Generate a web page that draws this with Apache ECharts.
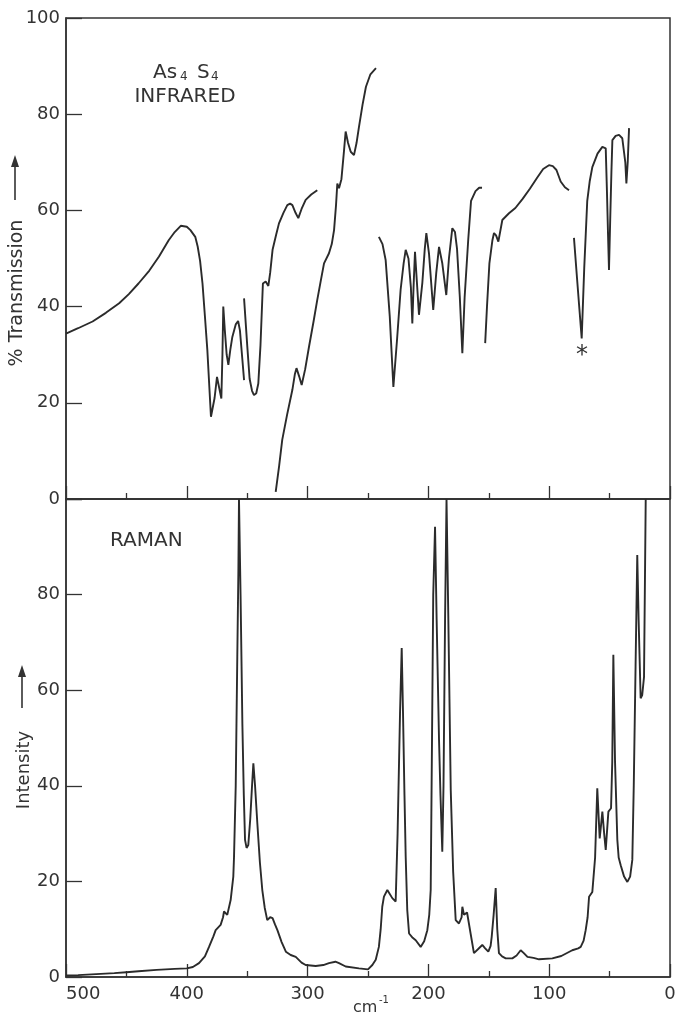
<!DOCTYPE html>
<html>
<head>
<meta charset="utf-8">
<script src="https://cdn.jsdelivr.net/npm/echarts@6/dist/echarts.min.js"></script>
<style>
html,body{margin:0;padding:0;background:#fff;}
#chart{width:680px;height:1018px;}
</style>
</head>
<body>
<div id="chart"></div>
<script>
// ---- Data: [wavenumber cm^-1, value] ----
// Infrared (% transmission), recorded in separate pen segments
const irSegA = [[500,34.4],[490,35.5],[478,36.9],[467,38.7],[456,40.7],[448,42.6],[440,44.8],[431,47.5],[423,50.4],[415,53.8],[410,55.5],[405,56.8],[400,56.6],[397,55.9],[393,54.5],[391,52.5],[389,49.5],[387,44.8],[385,38],[383,31],[381.5,24],[380,17.1],[377,21],[375,25.4],[373.5,23.5],[371.4,20.9],[370.5,30],[369.8,40],[368.5,35],[367,30],[365.6,27.9],[364,31],[362.3,33.7],[359.5,36.3],[357.5,37],[356,35],[354,29],[352.6,24.7]];
const irSegB = [[352.6,41.7],[350,32],[348,25],[346,22.5],[344.4,21.6],[342.5,22],[340.8,24],[339,32],[337,44.8],[334.7,45.2],[332.5,44.3],[331,47],[329,51.8],[326,55],[323.7,57.3],[320,59.5],[316.8,61.1],[314.5,61.4],[312.6,61.1],[310,59.5],[307.7,58.4],[305,60.3],[301.6,62.2],[297,63.3],[292,64.2]];
const irSegC = [[326.4,1.5],[323.5,7],[321,12.3],[317,17.5],[312.6,22.7],[310.5,26],[309.2,27.2],[307,25.5],[304.9,23.7],[302,27],[298.8,31.7],[295,37],[292,41.4],[289,45.5],[286.4,49],[282.3,51.1],[280,53],[278.1,55.9],[276.5,61],[275.4,65.6],[274,64.6],[272,66.5],[270,72],[268.5,76.4],[266.5,74],[264.3,72.2],[261.6,71.5],[259.5,74],[257.5,77.3],[254.5,82],[251.7,85.7],[248,88.3],[243.4,89.6]];
const irSegD = [[241,54.5],[238,53],[235.4,49.7],[232,38],[229,23.3],[226,33],[223,43.5],[220.5,49],[218.8,51.8],[216.5,50],[214.5,44],[213.3,36.5],[212.3,44],[211.1,51.4],[209.5,45],[207.8,38.3],[205,45],[203,52],[201.7,55.3],[199.5,51],[196,39.3],[193.5,47],[191.2,52.4],[188.5,49],[185.2,42.4],[183,50],[180.2,56.3],[178,55.5],[176.3,52],[174,42],[171.9,30.3],[170,42],[167,54],[164.7,62],[161,64],[158,64.7],[155.6,64.7]];
const irSegE = [[153,32.4],[151.5,40],[149.5,49],[147,53.8],[145.7,55.3],[144,54.8],[142.1,53.5],[138.8,58],[133.3,59.4],[128,60.5],[122,62.4],[116,64.5],[110,66.8],[105,68.6],[100.2,69.4],[97,69.2],[94,68.4],[90.5,66],[87,64.8],[83.6,64.2]];
const irSegF = [[79.5,54.3],[77,46],[75,39.5],[73.1,33.4],[71,48],[68.5,62],[66.5,66],[64.3,69],[60,71.8],[56,73.2],[53.2,72.9],[52.2,64],[51.3,55],[50.5,47.6],[49.5,58],[48.5,68],[47.7,74.6],[45,75.5],[42.2,75.7],[39.5,75],[38,74.6],[37,70],[36.1,65.6],[35,70],[33.9,77.1]];
// Raman (intensity)
const raman = [[500,0.3],[490,0.4],[475,0.6],[460,0.8],[450,1.0],[440,1.2],[425,1.5],[410,1.7],[400,1.8],[395,2.1],[389.9,2.9],[385,4.3],[381.6,6.3],[378,8.5],[376.1,9.8],[372,10.9],[370,12.5],[369.2,13.7],[366.5,13],[363.7,16.1],[361.5,21],[360.9,25.2],[359.5,40],[358.2,67],[357.3,85],[356.8,100],[355.5,80],[354,53],[352.8,38],[351.8,28.7],[350.5,27],[349.1,27.6],[347.5,33],[346,40],[344.9,44.7],[343.5,40],[341.6,32.1],[339.5,24],[337.5,18.2],[335.5,14.5],[333.4,11.9],[331,12.5],[329,12.3],[327,11],[325,9.8],[321.5,7.3],[318,5.3],[314,4.6],[309.8,4.2],[305,3],[301.6,2.5],[293.3,2.3],[287,2.5],[282.3,2.9],[277,3.2],[274,2.9],[268.5,2.2],[257.5,1.8],[250,1.6],[246.4,2.5],[243.6,3.6],[241,6.3],[239.5,10],[238.2,14.7],[236.8,16.8],[234,18.2],[232.6,18],[229.9,16.5],[227.1,15.8],[225.5,30],[223.5,55],[222.1,68.8],[221,55],[219.8,38],[218.8,25.2],[217.5,14],[216,9.1],[213,8.2],[210.5,7.7],[206.4,6.3],[203.5,7.5],[200.9,9.8],[199.3,13],[198.1,18.2],[197,50],[196,80],[194.5,94.2],[193.2,75],[191.2,49.6],[190,38],[188.5,26.2],[187.5,40],[186.2,75],[185,100],[183.5,75],[181.5,39.1],[179.5,22],[177.4,11.9],[174.7,11.2],[172.5,12.5],[171.9,14.7],[170.5,13],[169.1,12.6],[168,13.5],[167,13.7],[165,9],[162.3,5],[159,5.8],[157.5,6.1],[155.4,6.7],[153,6],[150.4,5.3],[148.5,6.5],[147.6,8.4],[146,13],[144.3,18.6],[143,10],[141.6,5],[139,4.3],[136,3.9],[130.5,3.9],[127,4.5],[123.6,5.6],[121,5],[118,4.2],[113,4],[108.4,3.7],[97.4,3.9],[90,4.4],[80.9,5.6],[76,6],[73.9,6.3],[71.5,7.6],[69.8,9.8],[68.2,12.5],[67,16.8],[64.3,17.8],[62,25],[60.2,39.5],[58.2,29],[57,32],[56,34.6],[54.5,30],[53.2,26.6],[51,34.6],[48.8,35.3],[47.8,45],[46.9,67.4],[45.5,45],[43.6,28.7],[42.5,25],[40.8,23.4],[38,21],[35.3,19.9],[33,21],[31.2,24.5],[30,40],[28.5,65],[27.1,88.3],[26,75],[24.3,58.3],[23,59],[21.5,62.8],[20.1,100]];

const yTickLabelsIR = ['0','20','40','60','80','100'];
const yTickLabelsRaman = ['0','20','40','60','80',''];
const xTickLabels = ['0','100','200','300','400','500'];

const FONT = 'DejaVu Sans';
const INK = '#333';
const LINE = '#2b2b2b';

const chart = echarts.init(document.getElementById('chart'), null, {renderer: 'canvas'});

function xAxisCfg(grid, showLabels) {
  return {
    type: 'value', gridIndex: grid, min: 0, max: 500, interval: 100, inverse: true,
    position: 'bottom',
    axisLine: {show: true, onZero: false, lineStyle: {color: INK, width: 1.5}},
    axisTick: {show: true, inside: true, length: 13, lineStyle: {color: INK, width: 1.3}},
    minorTick: {show: true, splitNumber: 2, length: 6, lineStyle: {color: INK, width: 1.3}},
    splitLine: {show: false}, minorSplitLine: {show: false},
    axisLabel: {show: showLabels, fontFamily: FONT, fontSize: 18, color: INK, margin: 8,
      alignMaxLabel: 'left',
      formatter: v => xTickLabels[Math.round(v / 100)]}
  };
}
function yAxisCfg(grid, labels) {
  return {
    type: 'value', gridIndex: grid, min: 0, max: 100, interval: 20,
    position: 'left',
    axisLine: {show: true, onZero: false, lineStyle: {color: INK, width: 1.5}},
    axisTick: {show: true, inside: true, length: 16, lineStyle: {color: INK, width: 1.3}},
    splitLine: {show: false},
    axisLabel: {fontFamily: FONT, fontSize: 18, color: INK, margin: 6,
      formatter: v => labels[Math.round(v / 20)]}
  };
}
function seg(data, xi) {
  return {
    type: 'line', xAxisIndex: xi, yAxisIndex: xi, data: data,
    showSymbol: false, symbol: 'none', clip: true, animation: false,
    lineStyle: {color: LINE, width: 1.9}
  };
}

const txt = (x, y, text, size, extra) => ({
  type: 'text', x: x, y: y,
  style: Object.assign({text: text, fontFamily: FONT, fontSize: size, fill: INK}, extra || {})
});

chart.setOption({
  backgroundColor: '#fff',
  animation: false,
  grid: [
    {left: 66, right: 10, top: 18, height: 481, show: true, borderColor: INK, borderWidth: 1.5, backgroundColor: 'transparent'},
    {left: 66, right: 10, top: 499, height: 478, show: true, borderColor: INK, borderWidth: 1.5, backgroundColor: 'transparent'}
  ],
  xAxis: [xAxisCfg(0, false), xAxisCfg(1, true)],
  yAxis: [yAxisCfg(0, yTickLabelsIR), yAxisCfg(1, yTickLabelsRaman)],
  series: [
    seg(irSegA, 0), seg(irSegB, 0), seg(irSegC, 0), seg(irSegD, 0), seg(irSegE, 0), seg(irSegF, 0),
    seg(raman, 1)
  ],
  graphic: [
    txt(153, 63, 'As', 20),
    txt(180, 71, '4', 12),
    txt(197, 63, 'S', 20),
    txt(211, 71, '4', 12),
    txt(185, 97, 'INFRARED', 20, {align: 'center', verticalAlign: 'middle'}),
    txt(110, 541, 'RAMAN', 20, {verticalAlign: 'middle'}),
    txt(582, 356, '*', 24, {align: 'center', verticalAlign: 'middle'}),
    {type: 'text', x: 17, y: 293, rotation: Math.PI / 2,
      style: {text: '% Transmission', fontFamily: FONT, fontSize: 19, fill: INK, align: 'center', verticalAlign: 'middle'}},
    {type: 'line', shape: {x1: 15, y1: 200, x2: 15, y2: 166}, style: {stroke: INK, lineWidth: 1.6}},
    {type: 'polygon', shape: {points: [[15, 155], [11, 167], [19, 167]]}, style: {fill: INK}},
    {type: 'text', x: 24, y: 770, rotation: Math.PI / 2,
      style: {text: 'Intensity', fontFamily: FONT, fontSize: 18, fill: INK, align: 'center', verticalAlign: 'middle'}},
    {type: 'line', shape: {x1: 22, y1: 708, x2: 22, y2: 676}, style: {stroke: INK, lineWidth: 1.6}},
    {type: 'polygon', shape: {points: [[22, 665], [18, 677], [26, 677]]}, style: {fill: INK}},
    {type: 'text', x: 353, y: 1000, style: {text: 'cm', fontFamily: FONT, fontSize: 16, fill: INK}},
    {type: 'text', x: 379, y: 995, style: {text: '-1', fontFamily: FONT, fontSize: 10, fill: INK}}
  ]
});
</script>
</body>
</html>
